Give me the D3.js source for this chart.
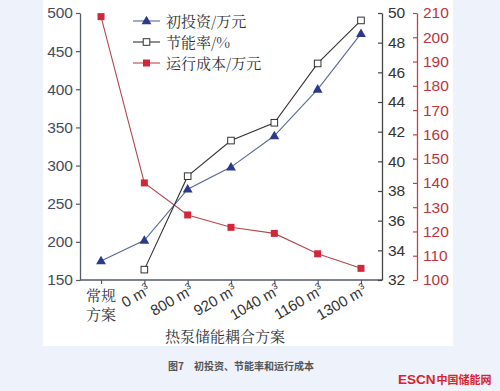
<!DOCTYPE html>
<html>
<head>
<meta charset="UTF-8">
<title>初投资、节能率和运行成本</title>
<script src="https://cdn.jsdelivr.net/npm/d3@7"></script>
<style>
    body { margin: 0; background: #eef2fa; }
    svg { display: block; }
    text { font-family: "Liberation Sans", Arial, sans-serif; }
    .serif { font-family: "Noto Serif CJK SC", "Noto Sans CJK SC", serif; }
    .cjk { font-family: "Noto Sans CJK SC", sans-serif; }
</style>
</head>
<body>
<svg id="chart"></svg>
<script>
    // categories on the x axis
    var categories = ["常规方案", "0 m³", "800 m³", "920 m³", "1040 m³", "1160 m³", "1300 m³"];

    // series values
    var investment = [175, 202, 269, 298, 339, 400, 473];          // 万元, left axis
    var savingRate = [null, 32.7, 39.0, 41.4, 42.6, 46.6, 49.5];    // %, first right axis
    var runningCost = [208.5, 140, 126.8, 121.7, 119.2, 110.8, 104.8]; // 万元, second right axis

    var leftTicks = [150, 200, 250, 300, 350, 400, 450, 500];
    var rateTicks = [32, 34, 36, 38, 40, 42, 44, 46, 48, 50];
    var costTicks = [100, 110, 120, 130, 140, 150, 160, 170, 180, 190, 200, 210];

    var W = 500, H = 391;
    var pL = 80, pR = 382, pR2 = 417, pT = 13, pB = 280;

    var svg = d3.select("#chart").attr("width", W).attr("height", H);

    svg.append("rect").attr("x", 43).attr("y", 0).attr("width", 410).attr("height", 346).attr("fill", "#fff");

    var x = d3.scalePoint().domain(categories).range([pL, pR]).padding(0.485);
    var yL = d3.scaleLinear().domain([150, 500]).range([pB, pT]);
    var yR = d3.scaleLinear().domain([32, 50]).range([pB, pT]);
    var yC = d3.scaleLinear().domain([100, 210]).range([pB, pT]);

    function styleAxis(g, col, txtCol) {
        g.select(".domain").attr("stroke", col).attr("stroke-width", 1.3);
        g.selectAll(".tick line").attr("stroke", col).attr("stroke-width", 1.2);
        g.selectAll(".tick text").attr("fill", txtCol).attr("font-size", 15.5);
    }

    // left axis
    var gL = svg.append("g").attr("transform", "translate(" + pL + ",0)")
        .call(d3.axisLeft(yL).tickValues(leftTicks).tickSize(4).tickSizeOuter(0).tickPadding(3));
    styleAxis(gL, "#555a6c", "#454b62");

    // bottom axis
    var gB = svg.append("g").attr("transform", "translate(0," + pB + ")")
        .call(d3.axisBottom(x).tickSize(4).tickSizeOuter(0).tickFormat(""));
    gB.select(".domain").attr("d", "M" + pL + ",0H" + pR).attr("stroke", "#555a6c").attr("stroke-width", 1.3);
    gB.selectAll(".tick line").attr("stroke", "#555a6c").attr("stroke-width", 1.2);

    // rotated tick labels
    categories.forEach(function (c, i) {
        var px = x(c);
        if (i === 0) {
            svg.append("text").attr("class", "serif").attr("x", px).attr("y", 301)
                .attr("text-anchor", "middle").attr("font-size", 15).attr("fill", "#333").text("常规");
            svg.append("text").attr("class", "serif").attr("x", px).attr("y", 320)
                .attr("text-anchor", "middle").attr("font-size", 15).attr("fill", "#333").text("方案");
        } else {
            var parts = c.split(" ");
            var t = svg.append("text")
                .attr("transform", "translate(" + (px + 7) + "," + (pB + 13) + ") rotate(-30)")
                .attr("text-anchor", "end").attr("font-size", 15).attr("fill", "#333");
            t.append("tspan").text(parts[0] + " m");
            t.append("tspan").attr("dy", -6).attr("font-size", 9).text("3");
        }
    });

    // first right axis (saving rate)
    var gR = svg.append("g").attr("transform", "translate(" + pR + ",0)")
        .call(d3.axisRight(yR).tickValues(rateTicks).tickSize(-4).tickSizeOuter(0).tickPadding(6));
    styleAxis(gR, "#444", "#333");

    // second right axis (running cost)
    var gC = svg.append("g").attr("transform", "translate(" + pR2 + ",0)")
        .call(d3.axisRight(yC).tickValues(costTicks).tickSize(-4).tickSizeOuter(0).tickPadding(6));
    styleAxis(gC, "#c0424a", "#c0343c");

    // lines
    var idx = d3.range(categories.length);
    var lineL = d3.line().defined(function (i) { return investment[i] != null; })
        .x(function (i) { return x(categories[i]); }).y(function (i) { return yL(investment[i]); });
    var lineR = d3.line().defined(function (i) { return savingRate[i] != null; })
        .x(function (i) { return x(categories[i]); }).y(function (i) { return yR(savingRate[i]); });
    var lineC = d3.line().defined(function (i) { return runningCost[i] != null; })
        .x(function (i) { return x(categories[i]); }).y(function (i) { return yC(runningCost[i]); });

    svg.append("path").attr("d", lineC(idx)).attr("fill", "none").attr("stroke", "#b8474e").attr("stroke-width", 1.1);
    svg.append("path").attr("d", lineL(idx)).attr("fill", "none").attr("stroke", "#5a6797").attr("stroke-width", 1.1);
    svg.append("path").attr("d", lineR(idx)).attr("fill", "none").attr("stroke", "#333").attr("stroke-width", 1.1);

    var tri = d3.symbol().type(d3.symbolTriangle).size(42);

    svg.selectAll(".cost").data(idx.filter(function (i) { return runningCost[i] != null; }))
        .enter().append("rect")
        .attr("x", function (i) { return x(categories[i]) - 3.5; })
        .attr("y", function (i) { return yC(runningCost[i]) - 3.5; })
        .attr("width", 7).attr("height", 7).attr("fill", "#d0283a");

    svg.selectAll(".inv").data(idx).enter().append("path")
        .attr("d", tri)
        .attr("transform", function (i) { return "translate(" + x(categories[i]) + "," + (yL(investment[i]) + 0.5) + ")"; })
        .attr("fill", "#2b3a8c");

    svg.selectAll(".rate").data(idx.filter(function (i) { return savingRate[i] != null; }))
        .enter().append("rect")
        .attr("x", function (i) { return x(categories[i]) - 3.3; })
        .attr("y", function (i) { return yR(savingRate[i]) - 3.3; })
        .attr("width", 6.6).attr("height", 6.6).attr("fill", "#fff").attr("stroke", "#333").attr("stroke-width", 1);

    // legend
    var legend = [
        {name: "初投资/万元", col: "#2b3a8c", line: "#5a6797", mark: "tri"},
        {name: "节能率/%", col: "#333", line: "#333", mark: "sq"},
        {name: "运行成本/万元", col: "#d0283a", line: "#b8474e", mark: "fill"}
    ];
    legend.forEach(function (d, i) {
        var ly = 21 + i * 21;
        var g = svg.append("g");
        g.append("line").attr("x1", 133).attr("x2", 160).attr("y1", ly).attr("y2", ly)
            .attr("stroke", d.line).attr("stroke-width", 1.1);
        if (d.mark === "tri") {
            g.append("path").attr("d", tri).attr("transform", "translate(146.5," + (ly + 0.5) + ")").attr("fill", d.col);
        } else if (d.mark === "sq") {
            g.append("rect").attr("x", 143.2).attr("y", ly - 3.3).attr("width", 6.6).attr("height", 6.6)
                .attr("fill", "#fff").attr("stroke", d.col);
        } else {
            g.append("rect").attr("x", 143).attr("y", ly - 3.5).attr("width", 7).attr("height", 7).attr("fill", d.col);
        }
        g.append("text").attr("class", "serif").attr("x", 166).attr("y", ly + 5.5)
            .attr("font-size", 15).attr("fill", "#333").text(d.name);
    });

    // x axis title
    svg.append("text").attr("class", "serif").attr("x", 225).attr("y", 342)
        .attr("text-anchor", "middle").attr("font-size", 15).attr("fill", "#333").text("热泵储能耦合方案");

    // caption
    svg.append("text").attr("class", "cjk").attr("x", 168).attr("y", 370)
        .attr("font-size", 10).attr("font-weight", "bold").attr("fill", "#555").text("图7　初投资、节能率和运行成本");

    // logo
    var logo = svg.append("text").attr("x", 398).attr("y", 384).attr("font-weight", "bold").attr("fill", "#d9232e");
    logo.append("tspan").attr("font-size", 13.5).attr("font-family", "'Liberation Sans', Arial, sans-serif").text("ESCN");
    logo.append("tspan").attr("font-size", 11).attr("class", "cjk").attr("dx", 1).text("中国储能网");
</script>
</body>
</html>
